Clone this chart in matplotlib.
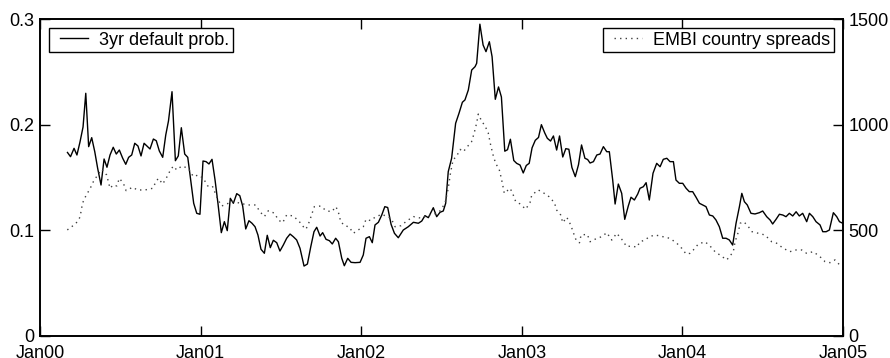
import matplotlib
matplotlib.use("Agg")
import matplotlib.pyplot as plt
from matplotlib.legend_handler import HandlerLine2D

plt.rcParams['font.family'] = ['Liberation Sans', 'DejaVu Sans']

# 3-year default probability (decimal year, probability)
prob_t = [2000.171, 2000.190, 2000.212, 2000.230, 2000.249, 2000.268, 2000.285, 2000.303, 2000.322, 2000.341,
          2000.359, 2000.380, 2000.399, 2000.417, 2000.436, 2000.456, 2000.475, 2000.494, 2000.515, 2000.534,
          2000.552, 2000.571, 2000.590, 2000.610, 2000.629, 2000.648, 2000.666, 2000.685, 2000.706, 2000.724,
          2000.743, 2000.764, 2000.783, 2000.800, 2000.822, 2000.843, 2000.861, 2000.880, 2000.901, 2000.920,
          2000.938, 2000.957, 2000.976, 2000.996, 2001.015, 2001.034, 2001.052, 2001.071, 2001.090, 2001.108,
          2001.129, 2001.148, 2001.166, 2001.185, 2001.204, 2001.225, 2001.244, 2001.262, 2001.281, 2001.301,
          2001.320, 2001.339, 2001.357, 2001.376, 2001.397, 2001.415, 2001.434, 2001.453, 2001.474, 2001.494,
          2001.515, 2001.536, 2001.557, 2001.577, 2001.598, 2001.619, 2001.644, 2001.665, 2001.686, 2001.706,
          2001.723, 2001.744, 2001.760, 2001.781, 2001.802, 2001.820, 2001.841, 2001.858, 2001.879, 2001.895,
          2001.916, 2001.937, 2001.962, 2001.993, 2002.013, 2002.030, 2002.051, 2002.069, 2002.086, 2002.107,
          2002.128, 2002.147, 2002.165, 2002.186, 2002.207, 2002.231, 2002.262, 2002.293, 2002.325, 2002.356,
          2002.377, 2002.397, 2002.418, 2002.449, 2002.470, 2002.491, 2002.511, 2002.526, 2002.542, 2002.563,
          2002.588, 2002.609, 2002.630, 2002.646, 2002.667, 2002.688, 2002.709, 2002.719, 2002.739, 2002.759,
          2002.777, 2002.798, 2002.815, 2002.835, 2002.855, 2002.873, 2002.894, 2002.911, 2002.929, 2002.950,
          2002.968, 2002.989, 2003.009, 2003.028, 2003.046, 2003.064, 2003.084, 2003.104, 2003.122, 2003.143,
          2003.159, 2003.179, 2003.197, 2003.217, 2003.235, 2003.255, 2003.274, 2003.293, 2003.312, 2003.333,
          2003.353, 2003.372, 2003.393, 2003.410, 2003.425, 2003.446, 2003.467, 2003.487, 2003.508, 2003.529,
          2003.545, 2003.566, 2003.581, 2003.601, 2003.622, 2003.641, 2003.663, 2003.680, 2003.701, 2003.722,
          2003.736, 2003.757, 2003.774, 2003.794, 2003.817, 2003.840, 2003.861, 2003.881, 2003.903, 2003.923,
          2003.944, 2003.960, 2003.981, 2004.002, 2004.023, 2004.043, 2004.064, 2004.085, 2004.106, 2004.127,
          2004.147, 2004.168, 2004.189, 2004.209, 2004.230, 2004.251, 2004.272, 2004.292, 2004.313, 2004.334,
          2004.355, 2004.370, 2004.386, 2004.404, 2004.427, 2004.452, 2004.479, 2004.500, 2004.525, 2004.546,
          2004.562, 2004.583, 2004.604, 2004.625, 2004.645, 2004.666, 2004.687, 2004.708, 2004.728, 2004.749,
          2004.774, 2004.791, 2004.812, 2004.832, 2004.857, 2004.874, 2004.895, 2004.915, 2004.940, 2004.961,
          2004.978, 2004.998]
prob = [0.1737, 0.1697, 0.1776, 0.1713, 0.1836, 0.1978, 0.2297, 0.1792, 0.1877, 0.1744,
        0.1587, 0.1429, 0.1675, 0.1597, 0.1713, 0.1786, 0.1722, 0.1760, 0.1682, 0.1625,
        0.1691, 0.1713, 0.1824, 0.1798, 0.1704, 0.1824, 0.1798, 0.1770, 0.1864, 0.1848,
        0.1751, 0.1691, 0.1902, 0.2035, 0.2312, 0.1659, 0.1704, 0.1971, 0.1722, 0.1691,
        0.1476, 0.1256, 0.1161, 0.1152, 0.1656, 0.1650, 0.1628, 0.1672, 0.1476, 0.1256,
        0.0978, 0.1082, 0.0997, 0.1303, 0.1256, 0.1347, 0.1328, 0.1230, 0.1013, 0.1091,
        0.1067, 0.1034, 0.0956, 0.0821, 0.0783, 0.0953, 0.0836, 0.0906, 0.0883, 0.0804,
        0.0861, 0.0925, 0.0965, 0.0940, 0.0909, 0.0830, 0.0662, 0.0681, 0.0845, 0.0987,
        0.1029, 0.0946, 0.0978, 0.0915, 0.0902, 0.0871, 0.0925, 0.0892, 0.0735, 0.0665,
        0.0735, 0.0697, 0.0694, 0.0697, 0.0767, 0.0925, 0.0940, 0.0883, 0.1051, 0.1076,
        0.1145, 0.1224, 0.1216, 0.1057, 0.0972, 0.0930, 0.1003, 0.1034, 0.1076, 0.1067,
        0.1088, 0.1139, 0.1120, 0.1214, 0.1129, 0.1171, 0.1183, 0.1256, 0.1555, 0.1682,
        0.2013, 0.2108, 0.2212, 0.2234, 0.2328, 0.2517, 0.2549, 0.2581, 0.2951, 0.2754,
        0.2691, 0.2785, 0.2643, 0.2240, 0.2357, 0.2262, 0.1749, 0.1763, 0.1862, 0.1661,
        0.1634, 0.1618, 0.1543, 0.1614, 0.1634, 0.1781, 0.1852, 0.1879, 0.2000, 0.1921,
        0.1871, 0.1845, 0.1893, 0.1760, 0.1893, 0.1694, 0.1773, 0.1767, 0.1595, 0.1508,
        0.1621, 0.1808, 0.1682, 0.1670, 0.1637, 0.1650, 0.1713, 0.1722, 0.1792, 0.1744,
        0.1744, 0.1476, 0.1249, 0.1438, 0.1350, 0.1104, 0.1230, 0.1313, 0.1287, 0.1344,
        0.1398, 0.1413, 0.1451, 0.1287, 0.1540, 0.1634, 0.1602, 0.1672, 0.1682, 0.1650,
        0.1650, 0.1476, 0.1445, 0.1445, 0.1398, 0.1366, 0.1366, 0.1313, 0.1256, 0.1240,
        0.1224, 0.1145, 0.1136, 0.1098, 0.1034, 0.0925, 0.0925, 0.0909, 0.0861, 0.1067,
        0.1224, 0.1350, 0.1271, 0.1240, 0.1161, 0.1155, 0.1167, 0.1183, 0.1129, 0.1098,
        0.1060, 0.1104, 0.1152, 0.1145, 0.1129, 0.1161, 0.1136, 0.1176, 0.1136, 0.1161,
        0.1082, 0.1161, 0.1129, 0.1082, 0.1051, 0.0987, 0.0987, 0.1003, 0.1167, 0.1129,
        0.1082, 0.1067]

# EMBI country spreads (decimal year, basis points)
embi_t = [2000.170, 2000.197, 2000.224, 2000.249, 2000.265, 2000.286, 2000.311, 2000.332, 2000.359, 2000.384,
          2000.415, 2000.436, 2000.456, 2000.478, 2000.494, 2000.519, 2000.536, 2000.577, 2000.606, 2000.654,
          2000.702, 2000.722, 2000.737, 2000.764, 2000.789, 2000.810, 2000.830, 2000.851, 2000.882, 2000.923,
          2000.955, 2000.986, 2001.017, 2001.044, 2001.073, 2001.107, 2001.131, 2001.173, 2001.204, 2001.293,
          2001.343, 2001.370, 2001.397, 2001.422, 2001.460, 2001.484, 2001.511, 2001.536, 2001.577, 2001.615,
          2001.640, 2001.656, 2001.677, 2001.692, 2001.708, 2001.748, 2001.781, 2001.816, 2001.843, 2001.862,
          2001.872, 2001.899, 2001.924, 2001.951, 2001.982, 2002.013, 2002.030, 2002.059, 2002.086, 2002.128,
          2002.186, 2002.211, 2002.248, 2002.283, 2002.325, 2002.377, 2002.418, 2002.455, 2002.491, 2002.522,
          2002.542, 2002.556, 2002.572, 2002.595, 2002.616, 2002.636, 2002.661, 2002.687, 2002.703, 2002.719,
          2002.729, 2002.750, 2002.771, 2002.791, 2002.806, 2002.821, 2002.837, 2002.859, 2002.871, 2002.881,
          2002.891, 2002.927, 2002.943, 2002.962, 2002.989, 2003.024, 2003.051, 2003.062, 2003.103, 2003.134,
          2003.170, 2003.203, 2003.217, 2003.242, 2003.255, 2003.280, 2003.305, 2003.321, 2003.338, 2003.359,
          2003.369, 2003.408, 2003.425, 2003.467, 2003.498, 2003.529, 2003.560, 2003.591, 2003.622, 2003.653,
          2003.685, 2003.716, 2003.736, 2003.767, 2003.794, 2003.830, 2003.861, 2003.923, 2003.965, 2003.996,
          2004.023, 2004.047, 2004.068, 2004.099, 2004.141, 2004.172, 2004.203, 2004.234, 2004.276, 2004.297,
          2004.317, 2004.328, 2004.349, 2004.359, 2004.380, 2004.404, 2004.432, 2004.473, 2004.514, 2004.556,
          2004.587, 2004.628, 2004.670, 2004.701, 2004.743, 2004.774, 2004.815, 2004.857, 2004.888, 2004.919,
          2004.950, 2004.986]
embi = [502, 517, 533, 562, 629, 664, 696, 730, 762, 789,
        762, 699, 715, 710, 746, 723, 688, 704, 691, 691,
        699, 730, 746, 719, 751, 782, 804, 786, 804, 794,
        754, 762, 746, 710, 710, 647, 615, 628, 636, 620,
        620, 588, 565, 593, 581, 549, 536, 573, 568, 541,
        517, 505, 541, 576, 612, 615, 593, 588, 612, 576,
        541, 521, 517, 486, 502, 517, 552, 546, 562, 576,
        557, 517, 522, 544, 565, 557, 573, 576, 592, 628,
        699, 771, 833, 852, 883, 872, 896, 919, 959, 1008,
        1050, 1017, 994, 961, 904, 857, 817, 789, 751, 715,
        675, 699, 675, 636, 625, 600, 631, 667, 691, 678,
        659, 631, 596, 573, 536, 562, 525, 489, 454, 441,
        478, 481, 446, 462, 470, 489, 454, 486, 458, 423,
        426, 420, 446, 454, 470, 478, 473, 462, 439, 415,
        388, 391, 407, 435, 446, 426, 399, 383, 360, 379,
        399, 446, 494, 533, 541, 525, 494, 486, 478, 446,
        439, 415, 399, 407, 407, 391, 399, 375, 352, 347,
        360, 331]

year_ticks = [2000, 2001, 2002, 2003, 2004, 2005]
year_labels = ['Jan00', 'Jan01', 'Jan02', 'Jan03', 'Jan04', 'Jan05']

fig = plt.figure(figsize=(8.9, 3.58), dpi=100)
ax = fig.add_axes([40 / 890, 22 / 358, 803 / 890, 317 / 358])
ax2 = ax.twinx()

ln1, = ax.plot(prob_t, prob, color='black', lw=1.0)
ln2, = ax2.plot(embi_t, embi, color='0.25', lw=1.0, linestyle=(0, (1, 3)))

ax.set_xlim(2000, 2005)
ax.set_ylim(0, 0.3)
ax2.set_ylim(0, 1500)
ax.set_xticks(year_ticks)
ax.set_xticklabels(year_labels)
ax.set_yticks([0, 0.1, 0.2, 0.3])
ax.set_yticklabels(['0', '0.1', '0.2', '0.3'])
ax2.set_yticks([0, 500, 1000, 1500])

ax.tick_params(axis='x', direction='in', length=7, width=1, top=True, labelsize=13, pad=6.5)
ax.tick_params(axis='y', direction='in', length=7, width=1, labelsize=13, pad=4)
ax2.tick_params(axis='y', direction='in', length=7, width=1, labelsize=13, pad=4)

for a in (ax, ax2):
    for s in a.spines.values():
        s.set_linewidth(1.2)

# legend handles start a bit inside the box
handler = {ln1: HandlerLine2D(xpad=0.4), ln2: HandlerLine2D(xpad=0.4)}
leg_kw = dict(fontsize=13, fancybox=False, edgecolor='black', framealpha=1,
              borderpad=0.2, handlelength=1.97, handletextpad=0.6, borderaxespad=0.5)
leg1 = ax.legend([ln1], ['3yr default prob.'], loc='upper left', handler_map=handler, **leg_kw)
leg1.get_frame().set_linewidth(1.0)
leg2 = ax2.legend([ln2], ['EMBI country spreads'], loc='upper right', handler_map=handler, **leg_kw)
leg2.get_frame().set_linewidth(1.0)

fig.savefig('out.png', dpi=100)
